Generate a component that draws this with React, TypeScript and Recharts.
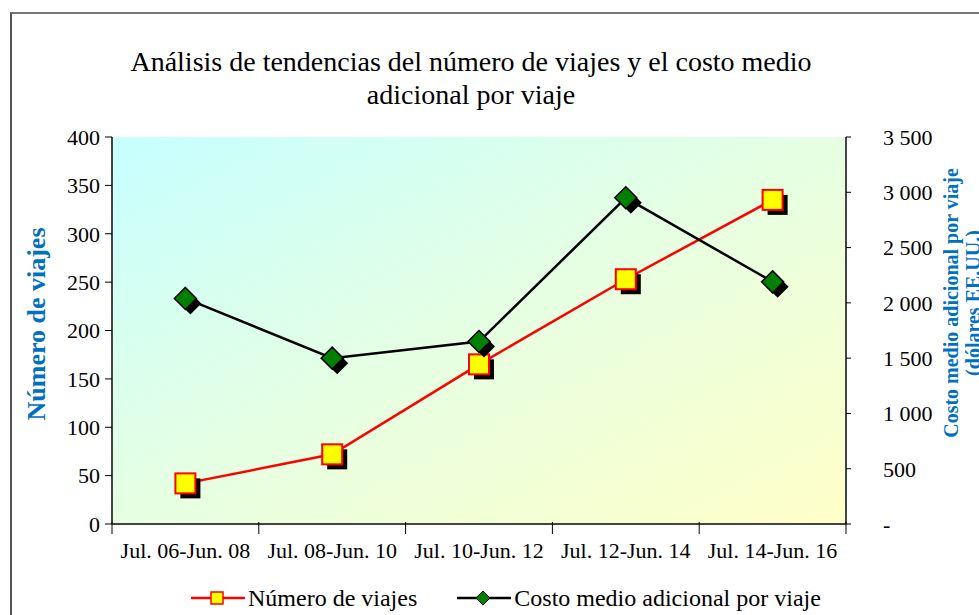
import { CartesianGrid, ComposedChart, Legend, Line, XAxis, YAxis } from 'recharts'

const periods = ['Jul. 06-Jun. 08', 'Jul. 08-Jun. 10', 'Jul. 10-Jun. 12', 'Jul. 12-Jun. 14', 'Jul. 14-Jun. 16']
const tripCounts = [42, 72, 165, 253, 335]
const avgCost = [2040, 1500, 1650, 2950, 2190]
const tripTicks = [0, 50, 100, 150, 200, 250, 300, 350, 400]
const costTicks = [0, 500, 1000, 1500, 2000, 2500, 3000, 3500]

const data = periods.map((name, i) => ({ name, trips: tripCounts[i], cost: avgCost[i] }))

const FONT = '"Liberation Serif", "Times New Roman", serif'
const BLUE = '#0070C0'
const PLOT_W = 734

function SquareDot({ cx, cy }: any) {
	if (cx == null || cy == null) return null
	return (
		<g>
			<rect x={cx - 5} y={cy - 5} width={20} height={20} fill='#000' />
			<rect x={cx - 10} y={cy - 10} width={20} height={20} fill='#ffff00' stroke='#ff0000' strokeWidth={2} />
		</g>
	)
}

function DiamondDot({ cx, cy }: any) {
	if (cx == null || cy == null) return null
	const d = (x: number, y: number) => `M${x},${y - 11} L${x + 11},${y} L${x},${y + 11} L${x - 11},${y} Z`
	return (
		<g>
			<path d={d(cx + 5, cy + 5)} fill='#000' />
			<path d={d(cx, cy)} fill='#008000' stroke='#000' strokeWidth={1.5} />
		</g>
	)
}

function CategoryTick({ x, y, payload, index }: any) {
	const band = PLOT_W / periods.length
	return (
		<g>
			<line x1={x - band / 2} y1={y - 4} x2={x - band / 2} y2={y + 8} stroke='#000' />
			{index === periods.length - 1 && (
				<line x1={x + band / 2} y1={y - 4} x2={x + band / 2} y2={y + 8} stroke='#000' />
			)}
			<text x={x} y={y + 32} textAnchor='middle' fontFamily={FONT} fontSize={22} fill='#000'>
				{payload.value}
			</text>
		</g>
	)
}

const costFormat = (v: number) => (v === 0 ? '-' : v.toLocaleString('en-US').replace(',', ' '))

function LegendContent() {
	return (
		<div style={{ display: 'flex', alignItems: 'center', fontFamily: FONT, fontSize: 24, paddingLeft: 191, lineHeight: '28px' }}>
			<svg width={54} height={24}>
				<line x1={0} y1={12} x2={54} y2={12} stroke='#ff0000' strokeWidth={2.5} />
				<rect x={20} y={6} width={12} height={12} fill='#ffff00' stroke='#ff0000' strokeWidth={1.5} />
			</svg>
			<span style={{ marginLeft: 3 }}>Número de viajes</span>
			<svg width={54} height={24} style={{ marginLeft: 40 }}>
				<line x1={0} y1={12} x2={54} y2={12} stroke='#000' strokeWidth={2.5} />
				<path d='M26,5 L33,12 L26,19 L19,12 Z' fill='#008000' stroke='#000' strokeWidth={1} />
			</svg>
			<span style={{ marginLeft: 3 }}>Costo medio adicional por viaje</span>
		</div>
	)
}

export default function App() {
	return (
		<div style={{ position: 'absolute', left: 0, top: 0, width: 979, height: 615, overflow: 'hidden', background: '#fff' }}>
			<div
				style={{
					position: 'absolute',
					left: 10,
					top: 12,
					width: 1000,
					height: 700,
					borderLeft: '2px solid #555',
					borderTop: '2px solid #777',
				}}
			/>
			<div
				style={{
					position: 'absolute',
					left: 0,
					top: 45,
					width: 942,
					textAlign: 'center',
					fontFamily: FONT,
					fontSize: 28,
					lineHeight: '33px',
					color: '#000',
				}}
			>
				Análisis de tendencias del número de viajes y el costo medio
				<br />
				adicional por viaje
			</div>
			<ComposedChart
				width={979}
				height={615}
				data={data}
				margin={{ top: 137, right: 63, bottom: 51, left: 52 }}
				style={{ position: 'absolute', left: 0, top: 0 }}
			>
				<defs>
					<linearGradient id='plotBg' x1='0' y1='0' x2='1' y2='1'>
						<stop offset='0%' stopColor='#c6ffff' />
						<stop offset='50%' stopColor='#e6ffe2' />
						<stop offset='100%' stopColor='#ffffc8' />
					</linearGradient>
				</defs>
				<CartesianGrid horizontal={false} vertical={false} fill='url(#plotBg)' fillOpacity={1} />
				<XAxis
					xAxisId='top'
					dataKey='name'
					orientation='top'
					scale='band'
					height={0}
					tick={false}
					tickLine={false}
					axisLine={{ stroke: '#808080', strokeWidth: 2 }}
				/>
				<XAxis
					dataKey='name'
					scale='band'
					height={40}
					axisLine={{ stroke: '#444', strokeWidth: 2 }}
					tickLine={false}
					tickSize={0}
					interval={0}
					tick={<CategoryTick />}
				/>
				<YAxis
					yAxisId='left'
					domain={[0, 400]}
					ticks={tripTicks}
					width={60}
					interval={0}
					tickSize={7}
					tickMargin={5}
					axisLine={{ stroke: '#444', strokeWidth: 2 }}
					tickLine={{ stroke: '#000' }}
					tick={{ fontFamily: FONT, fontSize: 22, fill: '#000' }}
					label={{
						content: () => (
							<text
								transform='translate(36,324) rotate(-90)'
								dy={9}
								textAnchor='middle'
								fontFamily={FONT}
								fontSize={26}
								fontWeight='bold'
								fill={BLUE}
							>
								Número de viajes
							</text>
						),
					}}
				/>
				<YAxis
					yAxisId='right'
					orientation='right'
					domain={[0, 3500]}
					ticks={costTicks}
					width={70}
					interval={0}
					tickSize={5}
					tickMargin={32}
					tickFormatter={costFormat}
					axisLine={{ stroke: '#444', strokeWidth: 2 }}
					tickLine={{ stroke: '#000' }}
					tick={{ fontFamily: FONT, fontSize: 22, fill: '#000', textAnchor: 'start' }}
					label={{
						content: () => (
							<g fontFamily={FONT} fontSize={20} fontWeight='bold' fill={BLUE} textAnchor='middle'>
								<text transform='translate(951,303) rotate(-90)' dy={7}>
									Costo medio adicional por viaje
								</text>
								<text transform='translate(973,303) rotate(-90)' dy={7}>
									(dólares EE.UU.)
								</text>
							</g>
						),
					}}
				/>
				<Line
					yAxisId='left'
					dataKey='trips'
					name='Número de viajes'
					stroke='#ff0000'
					strokeWidth={2.5}
					dot={<SquareDot />}
					activeDot={false}
					isAnimationActive={false}
				/>
				<Line
					yAxisId='right'
					dataKey='cost'
					name='Costo medio adicional por viaje'
					stroke='#000'
					strokeWidth={2.5}
					dot={<DiamondDot />}
					activeDot={false}
					isAnimationActive={false}
				/>
				<Legend
					layout='horizontal'
					verticalAlign='middle'
					align='center'
					content={<LegendContent />}
					wrapperStyle={{ top: 584, left: 0, width: 979 }}
				/>
			</ComposedChart>
		</div>
	)
}
